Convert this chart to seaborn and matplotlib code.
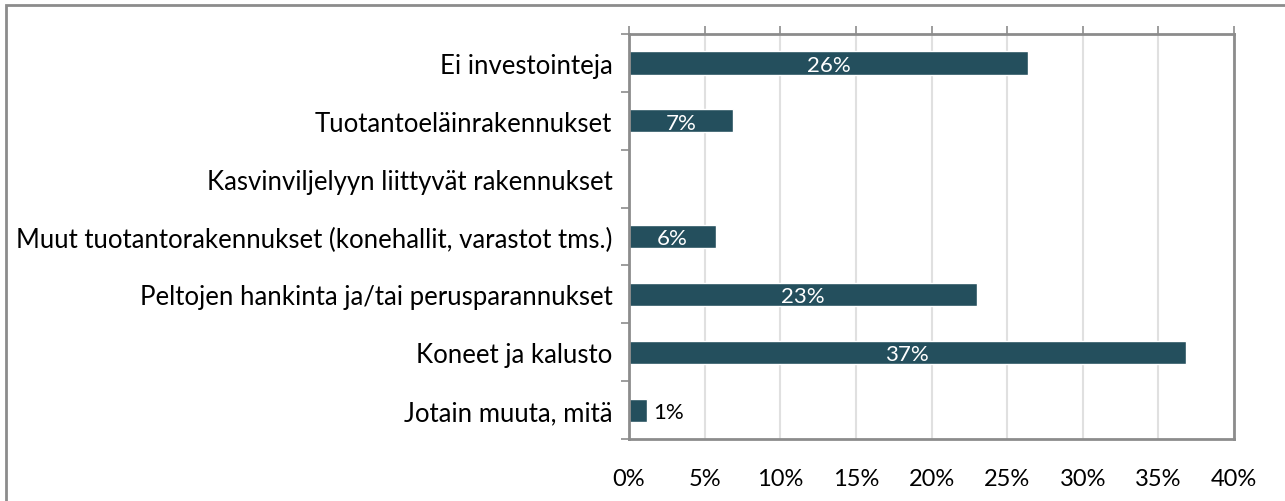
import pandas as pd
import seaborn as sns
import matplotlib.pyplot as plt
from matplotlib.patches import Rectangle
from matplotlib.ticker import FixedLocator, PercentFormatter

# Data (share of respondents, %)
categories = [
    "Ei investointeja",
    "Tuotantoeläinrakennukset",
    "Kasvinviljelyyn liittyvät rakennukset",
    "Muut tuotantorakennukset (konehallit, varastot tms.)",
    "Peltojen hankinta ja/tai perusparannukset",
    "Koneet ja kalusto",
    "Jotain muuta, mitä",
]
shares = [26.4, 6.9, 0.0, 5.75, 23.0, 36.8, 1.2]
labels = ["26%", "7%", "", "6%", "23%", "37%", "1%"]

df = pd.DataFrame({"Kategoria": categories, "Osuus": shares})

sns.set_theme(style="white")
plt.rcParams["font.family"] = ["Lato", "DejaVu Sans"]

bar_color = "#244F5D"
spine_color = "#8C8C8C"

fig = plt.figure(figsize=(12.85, 5.02), dpi=100)
ax = fig.add_axes([629 / 1285, 1 - 440 / 502, 605 / 1285, 405 / 502])

sns.barplot(data=df, x="Osuus", y="Kategoria", color=bar_color,
            width=0.4, saturation=1, ax=ax)

ax.set_xlim(0, 40)
ax.set_ylim(6.5, -0.5)
ax.xaxis.set_major_locator(FixedLocator(range(0, 45, 5)))
ax.xaxis.set_major_formatter(PercentFormatter(decimals=0))
ax.grid(axis="x", color="#E0E0E0", linewidth=1.5)
ax.set_axisbelow(True)
ax.set_xlabel("")
ax.set_ylabel("")

# tick marks on top, labels below
ax.tick_params(axis="x", top=True, bottom=False, labeltop=False,
               labelbottom=True, direction="out", length=6, width=1.2,
               color=spine_color, labelsize=17, pad=15, labelcolor="black")
ax.yaxis.set_minor_locator(FixedLocator([i - 0.5 for i in range(8)]))
ax.tick_params(axis="y", which="major", length=0, labelsize=18.5, pad=12,
               labelcolor="black")
ax.tick_params(axis="y", which="minor", left=True, length=6, width=1.2,
               color=spine_color, direction="out")

for s in ax.spines.values():
    s.set_visible(True)
    s.set_color(spine_color)
    s.set_linewidth(2)

# value labels
for i, (v, lab) in enumerate(zip(shares, labels)):
    if not lab:
        continue
    if v < 3:
        ax.text(v + 0.4, i + 0.03, lab, va="center", ha="left", fontsize=16,
                color="black")
    else:
        ax.text(v / 2, i + 0.03, lab, va="center", ha="center", fontsize=16,
                color="white")

# outer chart border (left and top edges visible)
fig.patches.append(Rectangle((6 / 1285, -0.1), 1.2, 1 - 6 / 502 + 0.1,
                             transform=fig.transFigure, fill=False,
                             edgecolor=spine_color, linewidth=2,
                             clip_on=False))

fig.savefig("out.png", dpi=100)
